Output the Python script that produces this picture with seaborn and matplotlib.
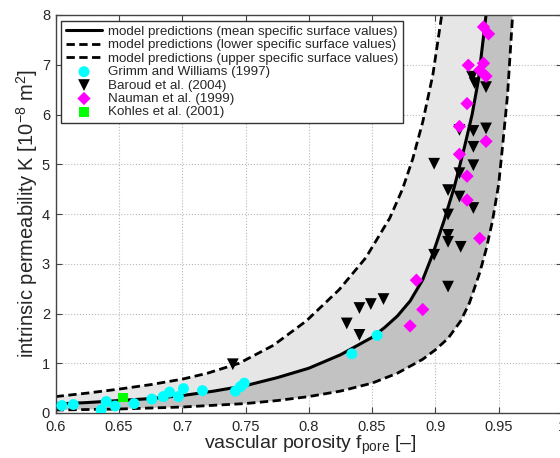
import numpy as np
import matplotlib
matplotlib.use("Agg")
import matplotlib.pyplot as plt
import seaborn as sns

sns.set_style("ticks")
plt.rcParams["font.family"] = ["Liberation Sans", "DejaVu Sans"]
plt.rcParams["mathtext.fontset"] = "custom"
plt.rcParams["mathtext.rm"] = "Liberation Sans"
plt.rcParams["mathtext.it"] = "Liberation Sans:italic"

# model curves (porosity, permeability)
f_mean = [0.60, 0.625, 0.65, 0.675, 0.70, 0.725, 0.75, 0.775, 0.80, 0.825, 0.85, 0.86,
          0.87, 0.88, 0.89, 0.898, 0.907, 0.915, 0.923, 0.929, 0.934, 0.940]
k_mean = [0.18, 0.21, 0.25, 0.29, 0.35, 0.44, 0.55, 0.71, 0.90, 1.17, 1.52, 1.72,
          1.95, 2.25, 2.68, 3.20, 3.88, 4.55, 5.35, 6.00, 6.70, 8.00]

f_upper = [0.60, 0.625, 0.65, 0.675, 0.70, 0.72, 0.745, 0.772, 0.798, 0.824, 0.845, 0.864,
           0.874, 0.882, 0.89, 0.898, 0.905]
k_upper = [0.33, 0.40, 0.48, 0.57, 0.68, 0.80, 1.00, 1.36, 1.85, 2.48, 3.12, 3.92,
           4.50, 5.10, 5.85, 6.80, 8.00]

f_lower = [0.60, 0.65, 0.70, 0.75, 0.775, 0.80, 0.825, 0.85, 0.87, 0.89, 0.90, 0.91,
           0.92, 0.927, 0.935, 0.94, 0.945, 0.95, 0.953, 0.957, 0.961]
k_lower = [0.06, 0.08, 0.12, 0.19, 0.25, 0.33, 0.44, 0.60, 0.80, 1.08, 1.27, 1.50,
           1.85, 2.22, 2.82, 3.28, 3.85, 4.60, 5.35, 6.40, 8.00]

# measurements
grimm_f = [0.605, 0.614, 0.636, 0.640, 0.647, 0.662, 0.676, 0.685, 0.690, 0.697, 0.701,
           0.716, 0.742, 0.746, 0.749, 0.834, 0.854]
grimm_k = [0.15, 0.17, 0.06, 0.23, 0.14, 0.19, 0.28, 0.33, 0.42, 0.33, 0.49,
           0.45, 0.44, 0.53, 0.60, 1.19, 1.56]

baroud_f = [0.740, 0.830, 0.840, 0.840, 0.849, 0.859, 0.899, 0.899, 0.910, 0.910, 0.910,
            0.910, 0.910, 0.919, 0.919, 0.920, 0.930, 0.930, 0.930, 0.919, 0.930, 0.940,
            0.929, 0.931, 0.940]
baroud_k = [0.98, 1.80, 1.57, 2.11, 2.19, 2.29, 3.18, 5.01, 2.54, 3.44, 3.58,
            3.99, 4.48, 4.35, 4.82, 3.34, 4.12, 4.98, 5.35, 5.69, 5.67, 5.72,
            6.76, 6.63, 6.55]

nauman_f = [0.880, 0.885, 0.890, 0.935, 0.925, 0.925, 0.919, 0.940, 0.919, 0.925,
            0.926, 0.935, 0.938, 0.940, 0.938, 0.942]
nauman_k = [1.75, 2.67, 2.08, 3.51, 4.28, 4.76, 5.20, 5.46, 5.76, 6.22,
            6.99, 6.89, 7.03, 6.77, 7.76, 7.62]

kohles_f = [0.653]
kohles_k = [0.31]

xticks = [0.6, 0.65, 0.7, 0.75, 0.8, 0.85, 0.9, 0.95, 1.0]
xtick_labels = ["0.6", "0.65", "0.7", "0.75", "0.8", "0.85", "0.9", "0.95", "1"]
yticks = [0, 1, 2, 3, 4, 5, 6, 7, 8]

W, H = 560, 458
fig = plt.figure(figsize=(W / 100, H / 100), dpi=100)
ax = fig.add_axes([55.6 / W, (H - 413) / H, 506.4 / W, 398 / H])
ax.set_axisbelow(True)

# shaded bands
ax.fill(f_upper + f_mean[::-1], k_upper + k_mean[::-1], color="#e6e6e6", lw=0, zorder=1)
ax.fill(f_mean + f_lower[::-1], k_mean + k_lower[::-1], color="#c2c2c2", lw=0, zorder=1)

dash = (0, (3, 1.6))
sns.lineplot(x=f_mean, y=k_mean, ax=ax, color="k", lw=2.2,
             label="model predictions (mean specific surface values)")
sns.lineplot(x=f_lower, y=k_lower, ax=ax, color="k", lw=2.0, linestyle=dash,
             label="model predictions (lower specific surface values)")
sns.lineplot(x=f_upper, y=k_upper, ax=ax, color="k", lw=2.0, linestyle=dash,
             label="model predictions (upper specific surface values)")

sns.scatterplot(x=grimm_f, y=grimm_k, ax=ax, marker="o", s=62, color="#00ffff",
                edgecolor="none", label="Grimm and Williams (1997)", zorder=3)
sns.scatterplot(x=baroud_f, y=baroud_k, ax=ax, marker="v", s=72, color="k",
                edgecolor="none", label="Baroud et al. (2004)", zorder=3)
sns.scatterplot(x=nauman_f, y=nauman_k, ax=ax, marker="D", s=46, color="#ff00ff",
                edgecolor="none", label="Nauman et al. (1999)", zorder=3)
sns.scatterplot(x=kohles_f, y=kohles_k, ax=ax, marker="s", s=48, color="#00ff00",
                edgecolor="none", label="Kohles et al. (2001)", zorder=3)

ax.set_xlim(0.6, 1.0)
ax.set_ylim(0, 8)
ax.set_xticks(xticks)
ax.set_xticklabels(xtick_labels)
ax.set_yticks(yticks)
ax.grid(True, linestyle=":", color="#b8b8b8", lw=0.8)
ax.tick_params(direction="in", length=4, top=True, right=True, labelsize=10.5,
               pad=4, color="#444444")
ax.tick_params(axis="x", pad=5)
for sp in ax.spines.values():
    sp.set_color("#444444")
    sp.set_linewidth(1.0)

ax.set_xlabel(r"vascular porosity f$_{\mathrm{pore}}$ [–]", fontsize=14)
ax.set_ylabel(r"intrinsic permeability K [10$^{\mathrm{-8}}$ m$^{\mathrm{2}}$]", fontsize=14.5)
ax.xaxis.set_label_coords(0.503, -0.053)
ax.yaxis.set_label_coords(-0.031, 0.5)

handles, labels = ax.get_legend_handles_labels()
leg = ax.legend(handles, labels, loc="upper left",
                bbox_to_anchor=(61 / W, 1 - 21 / H), bbox_transform=fig.transFigure,
                borderaxespad=0, fontsize=9.6, frameon=True, fancybox=False,
                framealpha=1, edgecolor="#333333", labelspacing=0.08,
                handlelength=2.75, handletextpad=0.4, borderpad=0.35,
                scatterpoints=1)
leg.get_frame().set_linewidth(1.0)

fig.savefig("out.png", dpi=100)
